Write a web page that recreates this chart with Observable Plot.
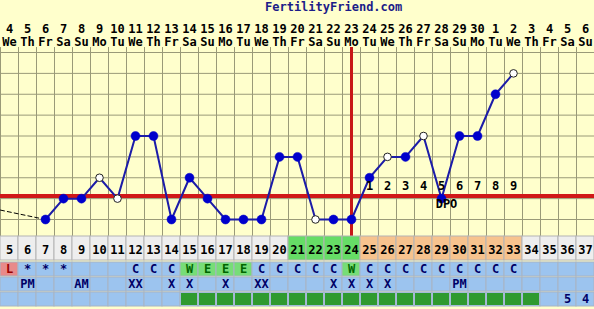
<!DOCTYPE html>
<html><head><meta charset="utf-8">
<script src="https://cdn.jsdelivr.net/npm/d3@7"></script>
<script src="https://cdn.jsdelivr.net/npm/@observablehq/plot@0.6"></script>
<style>
html,body{margin:0;padding:0;background:#ffffcc;}
#chart{width:594px;height:309px;overflow:hidden;background:#ffffcc;}
#title{height:17px;line-height:13px;font:bold 12px "DejaVu Sans Mono",monospace;color:#1c1c88;padding-left:265px;box-sizing:border-box;}
#chart svg{display:block;}
</style></head><body><div id="chart"><div id="title">FertilityFriend.com</div></div>
<script>
// ---- data ----
const cycleDays = [5,6,7,8,9,10,11,12,13,14,15,16,17,18,19,20,21,22,23,24,25,26,27,28,29,30,31,32,33,34,35,36,37];
const dates = ["4","5","6","7","8","9","10","11","12","13","14","15","16","17","18","19","20","21","22","23","24","25","26","27","28","29","30","1","2","3","4","5","6"];
const weekdays = ["We","Th","Fr","Sa","Su","Mo","Tu","We","Th","Fr","Sa","Su","Mo","Tu","We","Th","Fr","Sa","Su","Mo","Tu","We","Th","Fr","Sa","Su","Mo","Tu","We","Th","Fr","Sa","Su"];
const phases = ["pre","pre","pre","pre","pre","pre","pre","pre","pre","pre","pre","pre","pre","pre","pre","pre","fertile","fertile","fertile","fertile","luteal","luteal","luteal","luteal","luteal","luteal","luteal","luteal","luteal","post","post","post","post"];

const tempDays = [7,8,9,10,11,12,13,14,15,16,17,18,19,20,21,22,23,24,25,26,27,28,29,30,31,32,33];
const temps = [97.3,97.4,97.4,97.5,97.4,97.7,97.7,97.3,97.5,97.4,97.3,97.3,97.3,97.6,97.6,97.3,97.3,97.3,97.5,97.6,97.6,97.7,97.4,97.7,97.7,97.9,98.0];
const tempOpen = [false,false,false,true,true,false,false,false,false,false,false,false,false,false,false,true,false,false,false,true,false,true,false,false,false,false,true];
const prevDays = [4.5, 7];
const prevTemps = [97.345, 97.3];
const gridTemps = [97.3,97.4,97.5,97.6,97.7,97.8,97.9,98.0,98.1];
const coverline = 97.412;
const ovulationDay = 24;
const dpoDays = [25,26,27,28,29,30,31,32,33];
const dpoLabels = ["1","2","3","4","5","6","7","8","9"];
const dpoMarkDay = 29;

const cfRow = ["L","*","*","*","","","","C","C","C","W","E","E","E","C","C","C","C","C","W","C","C","C","C","C","C","C","C","C","","","",""];
const notesRow = ["","PM","","","AM","","","XX","","X","X","","X","","XX","","","","X","X","X","X","","","","PM","","","","","","",""];
const flagRow = ["","","","","","","","","","","box","box","box","box","box","box","box","box","box","box","box","box","box","box","box","box","box","box","box","box","","5","4"];

// ---- layout ----
const W = 594;
const FONT = '"DejaVu Sans Mono", monospace';
const xBand = {type: "band", domain: cycleDays, range: [0, W], padding: 0, axis: null};
const chart = document.getElementById("chart");
const baseStyle = {background: "transparent", fontFamily: FONT, fontSize: "12px", fontWeight: "bold", overflow: "visible"};

// header rows
const headerData = cycleDays.flatMap((d, i) => [
  {day: d, row: "date", label: dates[i]},
  {day: d, row: "dow", label: weekdays[i]}
]);
chart.append(Plot.plot({
  width: W, height: 30, margin: 0, style: baseStyle,
  x: xBand,
  y: {type: "band", domain: ["date", "dow"], range: [4, 33], axis: null},
  marks: [
    Plot.text(headerData, {x: "day", y: "row", text: "label", fill: "#000", lineHeight: 1})
  ]
}));

// main temperature chart
const tempData = tempDays.map((d, i) => ({day: d, temp: temps[i], open: tempOpen[i]}));
const prevData = prevDays.map((d, i) => ({day: d, temp: prevTemps[i]}));
const dpoData = dpoDays.map((d, i) => ({day: d, label: dpoLabels[i]}));
const bounds = cycleDays.map(d => d - 0.5).concat([cycleDays[cycleDays.length - 1] + 0.5]);
chart.append(Plot.plot({
  width: W, height: 189, margin: 0, style: baseStyle,
  x: {domain: [bounds[0], bounds[bounds.length - 1]], range: [0, W], axis: null},
  y: {domain: [97.3, 98.1], range: [172, 5], axis: null},
  marks: [
    Plot.ruleX(bounds, {stroke: "#9a9a78", strokeWidth: 1}),
    Plot.ruleY(gridTemps, {stroke: "#9a9a78", strokeWidth: 1}),
    Plot.ruleY([coverline], {stroke: "#d01818", strokeWidth: 4}),
    Plot.ruleX([ovulationDay], {stroke: "#c81818", strokeWidth: 3}),
    Plot.line(prevData, {x: "day", y: "temp", stroke: "#000", strokeWidth: 1, strokeDasharray: "4,3"}),
    Plot.line(tempData, {x: "day", y: "temp", stroke: "#1c1ca8", strokeWidth: 2}),
    Plot.dot(tempData.filter(d => !d.open), {x: "day", y: "temp", r: 4.5, fill: "#0000cc", stroke: "#0000cc", strokeWidth: 0.5}),
    Plot.dot(tempData.filter(d => d.open), {x: "day", y: "temp", r: 3.8, fill: "#ffffff", stroke: "#222", strokeWidth: 1}),
    Plot.text(dpoData, {x: "day", y: () => coverline, text: "label", dy: -10, fill: "#000"}),
    Plot.text([dpoMarkDay], {x: d => d, y: () => coverline, text: () => "DPO", dx: 5, dy: 8, fill: "#000"})
  ]
}));

// cycle day row
const phaseColor = {domain: ["pre", "fertile", "luteal", "post"], range: ["#eeeeee", "#66dd66", "#f7c38e", "#eeeeee"]};
const dayRowData = cycleDays.map((d, i) => ({day: d, phase: phases[i]}));
chart.append(Plot.plot({
  width: W, height: 24, margin: 0, style: baseStyle,
  x: xBand,
  color: phaseColor,
  marks: [
    Plot.cell(dayRowData, {x: "day", fill: "phase", stroke: "#b4b4b4", strokeWidth: 1}),
    Plot.text(dayRowData, {x: "day", text: d => String(d.day), dy: 2, fill: "#000"})
  ]
}));

// lower table rows
const tableData = cycleDays.flatMap((d, i) => [
  {day: d, row: "cf", label: cfRow[i]},
  {day: d, row: "notes", label: notesRow[i]},
  {day: d, row: "flags", label: flagRow[i]}
]);
const cellKind = d => d.label === "L" ? "L" : (d.label === "W" || d.label === "E") ? "WE" : "plain";
chart.append(Plot.plot({
  width: W, height: 49, margin: 0, style: baseStyle,
  x: xBand,
  y: {type: "band", domain: ["cf", "notes", "flags"], range: [0, 48], axis: null},
  color: {domain: ["plain", "L", "WE"], range: ["#9cc4ef", "#e88a8a", "#77dd77"]},
  marks: [
    Plot.cell(tableData, {x: "day", y: "row", fill: cellKind, stroke: "#a8b4c4", strokeWidth: 1}),
    Plot.cell(tableData.filter(d => d.label === "box"), {x: "day", y: "row", fill: "#2f9a2f", inset: 1}),
    Plot.text(tableData.filter(d => d.label !== "box" && d.label !== ""), {
      x: "day", y: "row", text: "label",
      fill: d => d.label === "L" ? "#990000" : (d.label === "W" || d.label === "E") ? "#006600" : "#000066"
    })
  ]
}));
</script></body></html>
